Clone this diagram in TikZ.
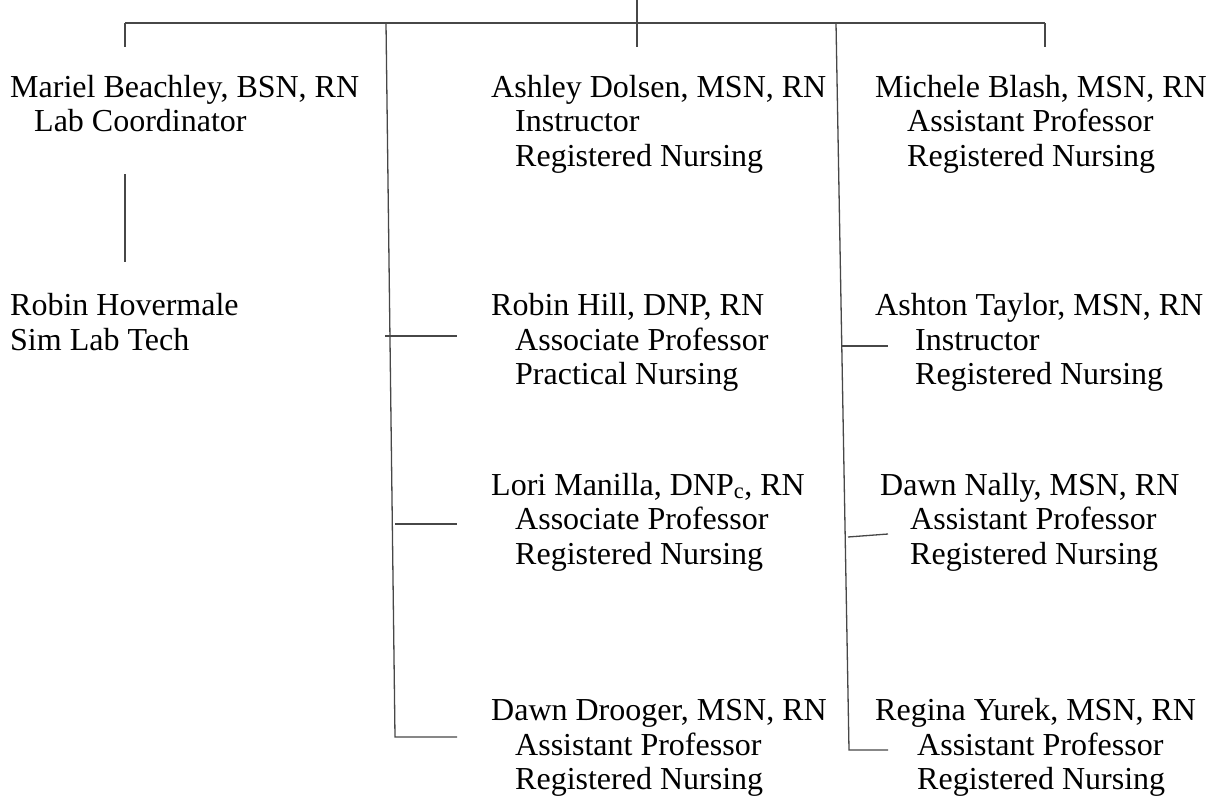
\documentclass[tikz,border=0pt]{standalone}
\usepackage{fontspec}
\setmainfont{Liberation Serif}
\begin{document}
\begin{tikzpicture}[x=1pt,y=-1pt,
  txt/.style={anchor=base west,inner sep=0pt,font=\fontsize{32}{34.5}\selectfont},
  ln/.style={line width=1.3pt,draw=black!72}]
\useasboundingbox (0,0) rectangle (1212,800);
% tree coordinates
\coordinate (top) at (637,0);
\coordinate (bar) at (637,23);
\coordinate (bL) at (125,23);
\coordinate (bR) at (1045,23);
\coordinate (b2) at (386,23);
\coordinate (b4) at (836,23);
\coordinate (d1) at (125,47);
\coordinate (d3) at (637,47);
\coordinate (d5) at (1045,47);
\coordinate (l1a) at (125,174);
\coordinate (l1b) at (125,262);
\coordinate (c2) at (395,737);
\coordinate (c2e) at (457,737);
\coordinate (c4) at (849,750);
\coordinate (c4e) at (888,750);
\coordinate (s21) at (385,336);
\coordinate (s21e) at (457,336);
\coordinate (s22) at (395,524);
\coordinate (s22e) at (457,524);
\coordinate (s41) at (842,346);
\coordinate (s41e) at (888,346);
\coordinate (s42) at (848,537);
\coordinate (s42e) at (888,534);
\draw[ln] (top) -- (bar);
\draw[ln] (bL) -- (bR);
\draw[ln] (bL) -- (d1);
\draw[ln] (bar) -- (d3);
\draw[ln] (bR) -- (d5);
\draw[ln] (l1a) -- (l1b);
\draw[ln] (b2) -- (c2) -- (c2e);
\draw[ln] (b4) -- (c4) -- (c4e);
\draw[ln] (s21) -- (s21e);
\draw[ln] (s22) -- (s22e);
\draw[ln] (s41) -- (s41e);
\draw[ln] (s42) -- (s42e);
% column 1
\node[txt] (mb1) at (10,97) {Mariel Beachley, BSN, RN};
\node[txt] (mb2) at (34,131.5) {Lab Coordinator};
\node[txt] (rh1) at (10,315.5) {Robin Hovermale};
\node[txt] (rh2) at (10,350) {Sim Lab Tech};
% column 2
\node[txt] (ad1) at (491,97) {Ashley Dolsen, MSN, RN};
\node[txt] (ad2) at (515,131.5) {Instructor};
\node[txt] (ad3) at (515,166) {Registered Nursing};
\node[txt] (rb1) at (491,315.5) {Robin Hill, DNP, RN};
\node[txt] (rb2) at (515,350) {Associate Professor};
\node[txt] (rb3) at (515,384.5) {Practical Nursing};
\node[txt] (lm1) at (491,495) {Lori Manilla, DNP\textsubscript{c}, RN};
\node[txt] (lm2) at (515,529.5) {Associate Professor};
\node[txt] (lm3) at (515,564) {Registered Nursing};
\node[txt] (dd1) at (491,720.5) {Dawn Drooger, MSN, RN};
\node[txt] (dd2) at (515,755) {Assistant Professor};
\node[txt] (dd3) at (515,789.5) {Registered Nursing};
% column 3
\node[txt] (mi1) at (875,97) {Michele Blash, MSN, RN};
\node[txt] (mi2) at (907,131.5) {Assistant Professor};
\node[txt] (mi3) at (907,166) {Registered Nursing};
\node[txt] (at1) at (875,315.5) {Ashton Taylor, MSN, RN};
\node[txt] (at2) at (915,350) {Instructor};
\node[txt] (at3) at (915,384.5) {Registered Nursing};
\node[txt] (dn1) at (880,495) {Dawn Nally, MSN, RN};
\node[txt] (dn2) at (910,529.5) {Assistant Professor};
\node[txt] (dn3) at (910,564) {Registered Nursing};
\node[txt] (ry1) at (875,720.5) {Regina Yurek, MSN, RN};
\node[txt] (ry2) at (917,755) {Assistant Professor};
\node[txt] (ry3) at (917,789.5) {Registered Nursing};
\end{tikzpicture}
\end{document}
